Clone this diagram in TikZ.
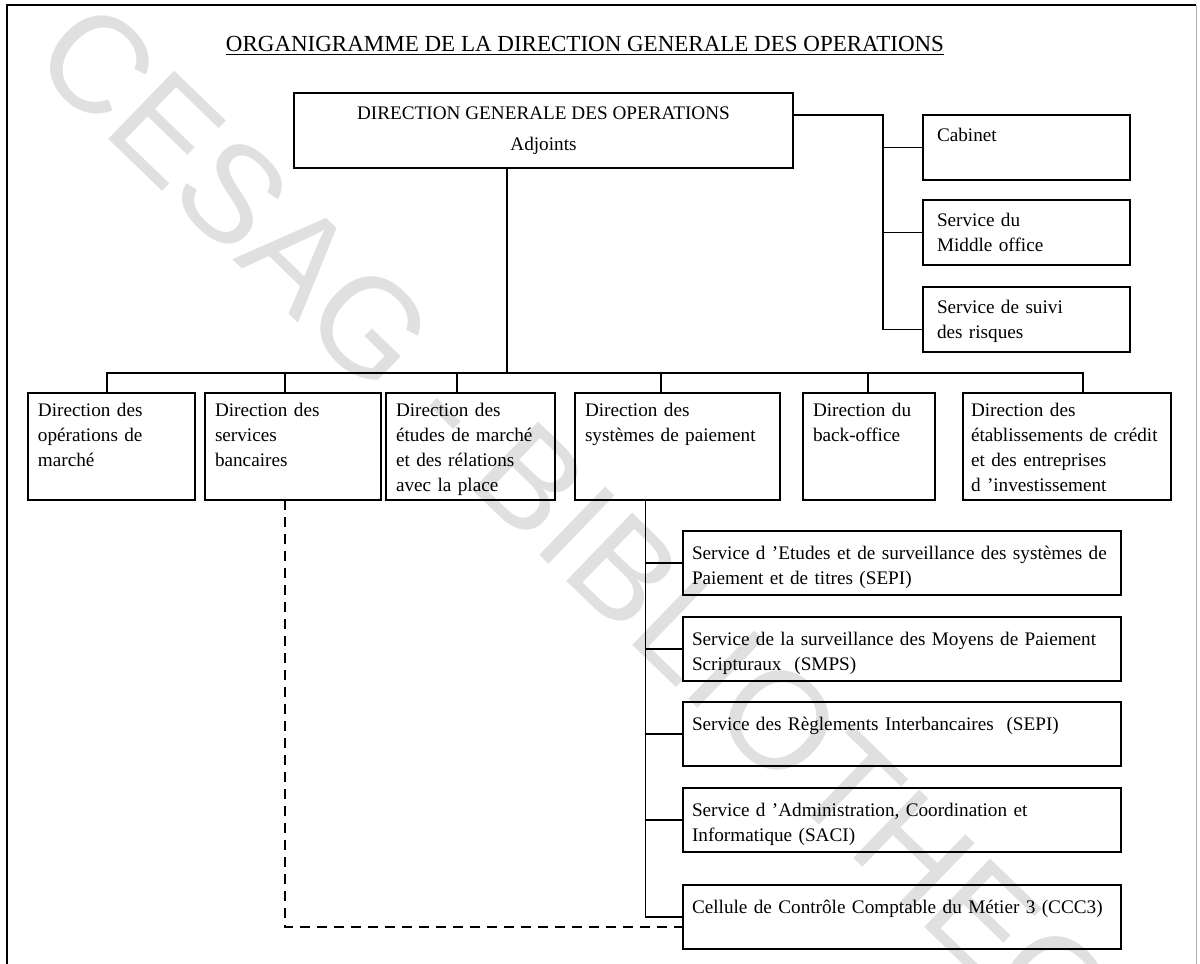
\documentclass[tikz,border=0pt]{standalone}
\usepackage{fontspec}
\setmainfont{Liberation Serif}
\newfontfamily\wmfont{Liberation Sans}
\usetikzlibrary{positioning}

\begin{document}
\begin{tikzpicture}[
        x=0.5pt, y=-0.5pt,
        font=\fontsize{9.6}{12.5}\selectfont,
        unit/.style={draw, line width=0.8pt, outer sep=0pt, inner ysep=0pt, inner xsep=5pt, align=left},
        dirbox/.style={unit, text height=11.5pt, text depth=42pt},
        sidebox/.style={unit, inner xsep=7pt, text width=89.5pt, text height=13pt, text depth=19.5pt},
        servbox/.style={unit, inner xsep=4.5pt, text width=210pt, text height=14pt, text depth=18pt},
        conn/.style={line width=0.6pt},
        dashconn/.style={line width=1pt, dash pattern=on 5pt off 3.5pt}
    ]
        \clip (0,0) rectangle (1200,964);

        % Watermark
        \node[rotate=-44, anchor=west, text=black!12, font=\wmfont\fontsize{69}{76}\selectfont] (wm) at (48,32) {CESAG - BIBLIOTHEQUE};

        % Frame and title
        \draw[line width=0.9pt] (7,990) -- (7,5) -- (1196,5);
        \draw[gray!60, line width=0.4pt] (1196,5) -- (1196,990);
        \node[font=\fontsize{11.5}{14}\selectfont] (title) at (585,46) {\underline{ORGANIGRAMME DE LA DIRECTION GENERALE DES OPERATIONS}};

        % Direction generale
        \node[unit, align=center, inner sep=0pt, minimum width=249.5pt, minimum height=37.5pt] (dgo) at (543.5,130.5) {DIRECTION GENERALE DES OPERATIONS\\[3pt]Adjoints};

        % Services rattaches
        \node[sidebox, anchor=north west] (cab) at (923,115) {Cabinet};
        \node[sidebox, below=10pt of cab] (mid) {Service du\\Middle office};
        \node[sidebox, below=11pt of mid] (risk) {Service de suivi\\des risques};

        % Directions
        \node[dirbox, anchor=north west, text width=73.5pt] (dom) at (28,393) {Direction des\\opérations de\\marché};
        \node[dirbox, right=5pt of dom, text width=78pt] (dsb) {Direction des\\services\\bancaires};
        \node[dirbox, right=2.5pt of dsb, text width=74.5pt] (dem) {Direction des\\études de marché\\et des rélations\\avec la place};
        \node[dirbox, right=10pt of dem, text width=92.5pt] (dsp) {Direction des\\systèmes de paiement};
        \node[dirbox, right=11.5pt of dsp, text width=56pt] (dbo) {Direction du\\back-office};
        \node[dirbox, right=14pt of dbo, inner xsep=4pt, text width=96pt] (dec) {Direction des\\établissements de crédit\\et des entreprises\\d 'investissement};

        % Services de la DSP
        \node[servbox, anchor=north west] (sepi) at (683,531) {Service d 'Etudes et de surveillance des systèmes de\\Paiement et de titres (SEPI)};
        \node[servbox, below=11pt of sepi] (smps) {Service de la surveillance des Moyens de Paiement\\Scripturaux\ \ (SMPS)};
        \node[servbox, below=10.5pt of smps] (sri) {Service des Règlements Interbancaires\ \ (SEPI)};
        \node[servbox, below=11pt of sri] (saci) {Service d 'Administration, Coordination et\\Informatique (SACI)};
        \node[servbox, below=16.5pt of saci] (ccc) {Cellule de Contrôle Comptable du Métier 3 (CCC3)};

        % Liaisons
        \coordinate (bus) at (507,373);
        \draw[conn] ([xshift=-18.25pt]dgo.south) -- (bus);
        \foreach \n/\dx in {dom/-2.25, dsb/-4, dem/-6.75, dsp/-8.25, dbo/-0.5, dec/8}
            \draw[conn] ([xshift=\dx pt]\n.north) |- (bus);

        \coordinate (sbus) at (883,115);
        \draw[conn] ([yshift=7.75pt]dgo.east) -- (sbus) |- ([yshift=-5pt]risk.west);
        \foreach \n in {cab, mid}
            \draw[conn] (\n.west) -- (\n.west -| sbus);

        \coordinate (pay) at ([xshift=-16pt]dsp.south);
        \draw[conn] (pay) |- (ccc.west);
        \foreach \n in {sepi, smps, sri, saci}
            \draw[conn] (\n.west) -- (\n.west -| pay);

        \draw[dashconn] ([xshift=-4pt]dsb.south) |- ([yshift=-5pt]ccc.west);
    \end{tikzpicture}
\end{document}
